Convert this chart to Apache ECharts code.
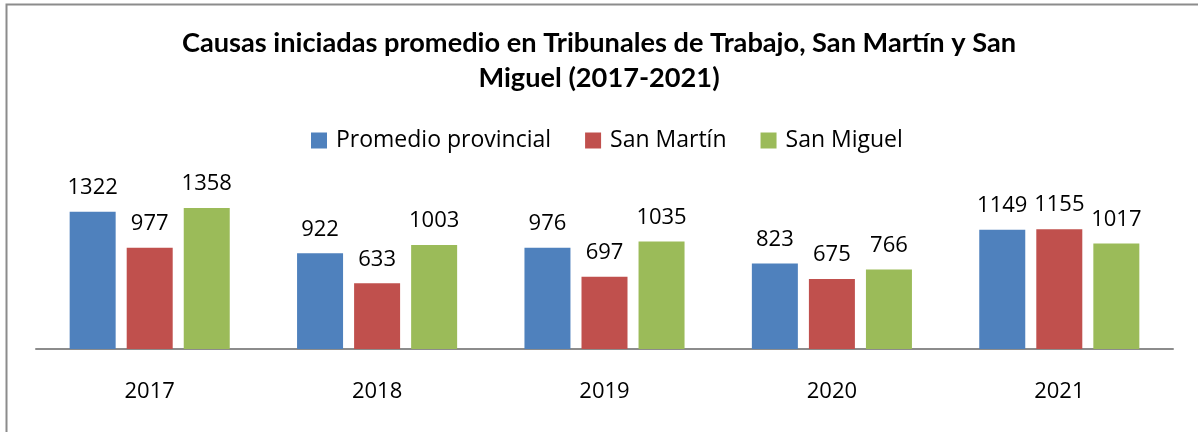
<!DOCTYPE html>
<html>
<head>
<meta charset="utf-8">
<script src="https://cdn.jsdelivr.net/npm/echarts@6/dist/echarts.min.js"></script>
<style>
  html, body { margin: 0; padding: 0; background: #fff; }
  #chart { width: 1198px; height: 432px; }
</style>
</head>
<body>
<div id="chart"></div>
<script>
// datos
const years = ['2017', '2018', '2019', '2020', '2021'];
const seriesNames = ['Promedio provincial', 'San Martín', 'San Miguel'];
const promedioProvincial = [1322, 922, 976, 823, 1149];
const sanMartin = [977, 633, 697, 675, 1155];
const sanMiguel = [1358, 1003, 1035, 766, 1017];
const colors = ['#4f81bd', '#c0504d', '#9bbb59'];

const textFont = '"Open Sans", sans-serif';

function makeSeries(name, data, color) {
    return {
        name: name,
        type: 'bar',
        data: data,
        barWidth: 46,
        barGap: '24%',
        itemStyle: { color: color },
        label: {
            show: true,
            position: 'top',
            distance: 13,
            color: '#000',
            fontFamily: textFont,
            fontSize: 22
        }
    };
}

var myChart = echarts.init(document.getElementById('chart'));
var option = {
    animation: false,
    backgroundColor: '#fff',
    title: {
        text: 'Causas iniciadas promedio en Tribunales de Trabajo, San Martín y San\nMiguel (2017-2021)',
        left: 'center',
        top: 21,
        textStyle: {
            fontFamily: 'Lato, sans-serif',
            fontWeight: 'bold',
            fontSize: 27.2,
            lineHeight: 35,
            color: '#000'
        }
    },
    legend: {
        top: 124,
        left: 306,
        itemWidth: 16,
        itemHeight: 16,
        itemGap: 34,
        icon: 'rect',
        textStyle: {
            fontFamily: textFont,
            fontSize: 23,
            color: '#000',
            padding: [0, 0, 0, 4]
        },
        data: seriesNames
    },
    grid: {
        left: 36,
        right: 25,
        top: 183,
        bottom: 83
    },
    xAxis: {
        type: 'category',
        data: years,
        axisLine: { lineStyle: { color: '#8c8c8c', width: 2 } },
        axisTick: { show: false },
        axisLabel: {
            margin: 32,
            color: '#000',
            fontFamily: textFont,
            fontSize: 22
        }
    },
    yAxis: {
        type: 'value',
        min: 0,
        max: 1600,
        show: false,
        splitLine: { show: false }
    },
    graphic: [{
        type: 'rect',
        shape: { x: 6.5, y: 4.5, width: 1300, height: 500 },
        style: { fill: null, stroke: '#8c8c8c', lineWidth: 2 },
        silent: true
    }],
    series: [
        makeSeries(seriesNames[0], promedioProvincial, colors[0]),
        makeSeries(seriesNames[1], sanMartin, colors[1]),
        makeSeries(seriesNames[2], sanMiguel, colors[2])
    ]
};
myChart.setOption(option);
</script>
</body>
</html>
